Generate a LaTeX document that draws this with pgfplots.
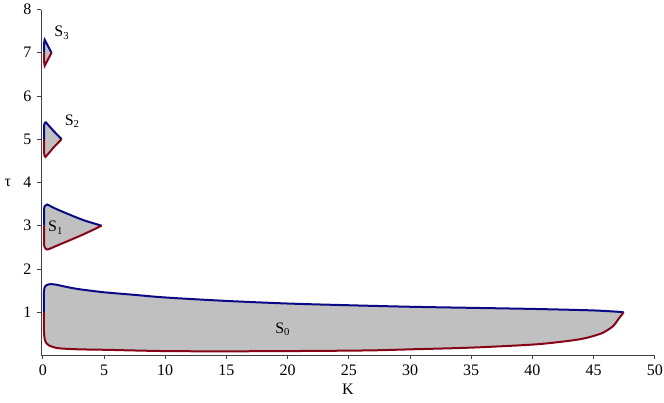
\documentclass[border=0pt]{standalone}
\usepackage{fontspec}
\setmainfont{Liberation Serif}
\usepackage{pgfplots}
\pgfplotsset{compat=1.18}
\usepgfplotslibrary{fillbetween}
\definecolor{blueC}{RGB}{10,10,135}
\definecolor{redC}{RGB}{135,5,25}
\definecolor{fillC}{RGB}{192,192,192}
\begin{document}
\fontsize{12}{14}\selectfont
\begin{tikzpicture}
\begin{axis}[
  set layers,
  scale only axis,
  width=460.5pt, height=259.5pt,
  xmin=-0.15, xmax=50, ymin=0, ymax=8,
  axis lines=left,
  axis line style={-, black!75, line width=0.6pt},
  tick style={black!75, line width=0.6pt},
  tick align=outside,
  major tick length=3pt,
  xtick={0,5,...,50},
  ytick={1,2,...,8},
  /pgf/number format/assume math mode=true,
  tick label style={font=\fontsize{12}{14}\selectfont},
  xlabel={K},
  ylabel={τ},
  xlabel style={at={(axis description cs:0.5,-0.098)}, anchor=center, font=\fontsize{12}{14}\selectfont},
  ylabel style={at={(axis description cs:-0.054,0.5)}, anchor=center, rotate=-90, font=\fontsize{12}{14}\selectfont},
  clip=false,
]
% S0
\addplot[name path=S0t, blueC, line width=1.5pt, smooth] coordinates {
(0.08,1.0)(0.08,1.3)(0.1,1.5)(0.2,1.6)(0.5,1.645)(1,1.64)(2,1.58)(3,1.53)(5,1.46)(7.5,1.4)(10,1.34)(15,1.26)(20,1.2)(25,1.16)(30,1.125)(35,1.1)(40,1.075)(45,1.04)(47.45,1.0)};
\addplot[name path=S0b, redC, line width=1.5pt, smooth] coordinates {
(0.08,1.0)(0.09,0.6)(0.15,0.38)(0.3,0.28)(0.5,0.23)(1,0.18)(1.5,0.16)(3,0.14)(5,0.13)(10,0.1)(15,0.095)(20,0.1)(25,0.11)(27.5,0.12)(30,0.14)(35,0.18)(40,0.25)(42.5,0.32)(44,0.38)(45,0.45)(45.8,0.53)(46.6,0.68)(47.0,0.83)(47.3,0.94)(47.45,1.0)};
% S1
\addplot[name path=S1t, blueC, line width=1.5pt, smooth] coordinates {
(0.1,3.0)(0.1,3.35)(0.15,3.45)(0.35,3.49)(0.7,3.44)(1.23,3.37)(2.32,3.24)(3.41,3.12)(4.8,3.0)};
\addplot[name path=S1b, redC, line width=1.5pt, smooth] coordinates {
(0.1,3.0)(0.1,2.6)(0.15,2.5)(0.3,2.45)(0.6,2.47)(1.0,2.52)(2.0,2.64)(3.0,2.76)(4.0,2.89)(4.8,3.0)};
% S2
\addplot[name path=S2t, blueC, line width=1.5pt] coordinates {
(0.1,5.0)(0.1,5.31)(0.16,5.38)(0.25,5.39)(0.85,5.2)(1.53,5.0)};
\addplot[name path=S2b, redC, line width=1.5pt] coordinates {
(0.1,5.0)(0.1,4.68)(0.15,4.61)(0.22,4.59)(0.85,4.8)(1.53,5.0)};
% S3
\addplot[name path=S3t, blueC, line width=1.5pt] coordinates {
(0.1,7.0)(0.1,7.22)(0.15,7.3)(0.71,7.0)};
\addplot[name path=S3b, redC, line width=1.5pt] coordinates {
(0.1,7.0)(0.1,6.8)(0.15,6.7)(0.71,7.0)};
\addplot[fillC] fill between[of=S0t and S0b];
\addplot[fillC] fill between[of=S1t and S1b];
\addplot[fillC] fill between[of=S2t and S2b];
\addplot[fillC] fill between[of=S3t and S3b];
\node at (axis cs:19.6,0.6) {S\textsubscript{0}};
\node at (axis cs:1.05,2.95) {S\textsubscript{1}};
\node at (axis cs:2.4,5.41) {S\textsubscript{2}};
\node at (axis cs:1.55,7.46) {S\textsubscript{3}};
\coordinate (ll) at (axis cs:-3.5,-1.085);
\coordinate (ur) at (axis cs:50.75,8.22);
\end{axis}
\pgfresetboundingbox
\useasboundingbox (ll) rectangle (ur);
\end{tikzpicture}
\end{document}
